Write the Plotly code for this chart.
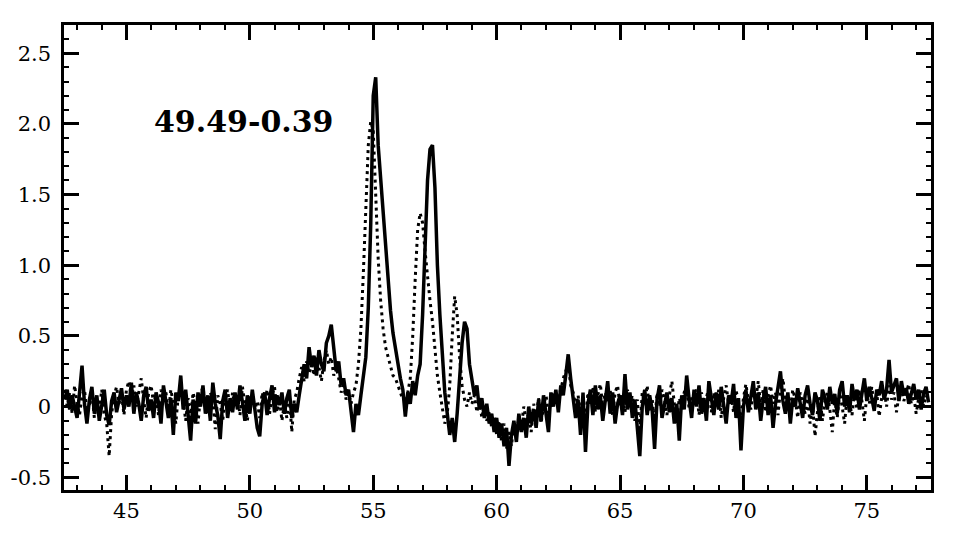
import plotly.graph_objects as go

# velocity grid: start and step (km/s)
x_start = 42.5
x_step = 0.1

solid_vals = [
    0.05, 0.12, -0.02, 0.08, 0.00, -0.08, 0.10, 0.29, 0.02, -0.12,
    0.05, 0.14, -0.05, 0.08, -0.10, 0.02, 0.12, -0.06, -0.13, 0.04,
    0.10, -0.04, 0.06, 0.13, -0.02, 0.08, 0.00, 0.17, -0.05, 0.10,
    0.02, -0.10, 0.08, 0.14, -0.03, 0.05, -0.08, 0.10, 0.03, -0.12,
    0.15, 0.02, -0.08, 0.06, -0.20, 0.10, 0.04, 0.22, -0.02, 0.12,
    -0.06, -0.24, 0.05, -0.12, 0.10, 0.00, 0.15, -0.05, 0.08, -0.10,
    0.17, 0.02, -0.06, -0.23, 0.04, 0.12, -0.08, 0.06, -0.04, 0.10,
    -0.02, 0.15, 0.03, -0.10, 0.08, -0.05, 0.12, -0.02, -0.15, -0.21,
    0.02, 0.10, -0.06, 0.06, 0.15, -0.04, 0.08, 0.01, 0.10, -0.05,
    0.06, 0.12, -0.08, 0.02, -0.04, 0.08, 0.18, 0.30, 0.20, 0.42,
    0.28, 0.36, 0.22, 0.40, 0.30, 0.25, 0.45, 0.50, 0.58, 0.38,
    0.25, 0.32, 0.15, 0.20, 0.08, 0.12, -0.05, -0.18, 0.02, -0.06,
    0.08, 0.20, 0.35, 0.70, 1.30, 2.20, 2.33, 1.85, 1.60, 1.35,
    1.10, 0.85, 0.68, 0.52, 0.40, 0.30, 0.20, 0.12, -0.07, 0.10,
    0.02, 0.18, 0.08, 0.22, 0.30, 0.65, 1.15, 1.60, 1.82, 1.85,
    1.55, 1.00, 0.65, 0.35, 0.10, -0.05, -0.20, -0.08, -0.25, -0.05,
    0.20, 0.45, 0.60, 0.55, 0.30, 0.20, 0.08, 0.15, -0.02, 0.06,
    -0.08, 0.02, -0.12, -0.05, -0.18, -0.08, -0.22, -0.12, -0.28, -0.15,
    -0.42, -0.20, -0.10, -0.25, -0.05, -0.18, -0.08, -0.22, 0.00, -0.12,
    -0.02, -0.15, 0.05, -0.10, 0.08, -0.05, -0.18, 0.10, 0.00, 0.12,
    -0.04, 0.15, 0.08, 0.22, 0.37, 0.20, 0.05, -0.08, 0.05, -0.20,
    0.10, -0.32, 0.02, 0.12, -0.06, 0.15, -0.02, 0.08, -0.10, 0.05,
    0.18, -0.05, 0.10, -0.12, 0.02, 0.08, -0.06, 0.23, -0.02, 0.10,
    -0.08, 0.05, -0.15, -0.35, 0.00, 0.12, -0.06, 0.08, -0.02, -0.30,
    0.05, 0.15, -0.08, 0.02, 0.10, -0.04, 0.06, -0.12, 0.02, -0.24,
    0.08, -0.02, 0.22, 0.05, -0.08, 0.12, 0.00, 0.15, -0.05, 0.06,
    -0.10, 0.18, 0.04, -0.06, 0.10, -0.02, 0.14, 0.00, -0.12, 0.08,
    0.02, 0.16, -0.08, 0.06, -0.31, 0.00, 0.12, -0.04, 0.08, 0.18,
    -0.02, 0.10, -0.10, 0.05, 0.14, -0.06, 0.08, -0.15, 0.02, 0.12,
    0.25, 0.04, -0.05, 0.10, -0.12, 0.06, 0.00, 0.13, 0.03, -0.08,
    0.08, 0.15, 0.02, -0.06, 0.10, 0.04, -0.10, 0.12, 0.06, -0.02,
    0.14, 0.02, 0.09, -0.05, 0.12, 0.18, 0.00, 0.08, -0.04, 0.16,
    0.05, 0.12, -0.02, 0.10, 0.20, 0.04, 0.14, 0.06, -0.03, 0.12,
    0.08, 0.18, 0.05, 0.12, 0.33, 0.10, 0.15, 0.20, 0.04, 0.18,
    0.08, 0.13, 0.02, 0.10, 0.16, 0.05, 0.12, -0.02, 0.09, 0.14,
    0.03,
]

dotted_vals = [
    0.12, 0.00, 0.10, -0.05, 0.15, 0.02, -0.06, 0.08, 0.12, -0.04,
    0.02, 0.10, -0.08, 0.04, -0.02, 0.12, -0.06, -0.12, -0.35, -0.05,
    0.08, 0.14, 0.02, 0.10, -0.06, 0.12, 0.18, 0.06, 0.15, 0.00,
    0.10, 0.20, 0.04, -0.08, 0.10, 0.15, 0.02, 0.08, -0.06, 0.12,
    0.04, 0.10, -0.05, 0.12, 0.02, -0.12, 0.08, 0.15, 0.05, -0.10,
    0.06, -0.08, 0.10, 0.02, -0.12, 0.08, 0.14, 0.00, -0.06, 0.10,
    0.05, -0.16, 0.08, 0.02, -0.10, 0.06, 0.12, -0.04, 0.10, 0.00,
    0.08, -0.06, 0.14, 0.02, -0.10, 0.06, 0.10, -0.02, 0.04, -0.08,
    0.10, 0.02, 0.12, -0.05, 0.08, 0.14, -0.04, 0.06, -0.10, 0.02,
    -0.08, 0.08, -0.18, 0.05, 0.10, 0.20, 0.28, 0.18, 0.32, 0.24,
    0.30, 0.22, 0.35, 0.28, 0.18, 0.32, 0.40, 0.30, 0.35, 0.22,
    0.28, 0.20, 0.10, 0.15, 0.05, 0.10, 0.02, 0.10, 0.15, 0.30,
    0.55, 0.95, 1.40, 1.85, 2.02, 1.95, 1.50, 1.05, 0.75, 0.55,
    0.42, 0.35, 0.30, 0.22, 0.20, 0.15, 0.10, 0.05, 0.08, 0.10,
    0.20, 0.50, 0.90, 1.25, 1.37, 1.30, 1.10, 0.90, 0.75, 0.60,
    0.40, 0.22, 0.10, 0.00, -0.12, -0.05, 0.15, 0.50, 0.78, 0.65,
    0.35, 0.15, 0.05, 0.00, 0.10, 0.02, 0.08, -0.04, 0.06, -0.08,
    0.02, -0.10, -0.04, -0.15, -0.08, -0.20, -0.10, -0.25, -0.12, -0.30,
    -0.18, -0.28, -0.12, -0.20, -0.08, -0.15, 0.00, -0.10, -0.05, -0.18,
    0.02, -0.08, 0.06, -0.12, 0.00, 0.08, -0.05, 0.04, 0.10, 0.02,
    0.08, 0.12, 0.20, 0.25, 0.30, 0.15, 0.10, 0.00, 0.08, -0.05,
    0.05, -0.10, 0.10, 0.02, 0.14, -0.04, 0.08, 0.16, 0.00, 0.10,
    0.04, 0.12, -0.06, 0.10, 0.15, 0.00, 0.08, -0.04, 0.12, 0.02,
    0.08, -0.10, 0.05, -0.18, 0.10, 0.02, 0.15, -0.04, 0.06, -0.12,
    0.10, 0.00, 0.12, 0.05, -0.06, 0.08, 0.18, 0.02, -0.10, 0.06,
    0.00, 0.10, 0.15, -0.02, 0.08, 0.04, 0.12, -0.06, 0.10, 0.02,
    0.06, 0.14, -0.04, 0.10, 0.00, 0.12, -0.08, 0.06, 0.15, 0.02,
    0.08, -0.04, 0.12, 0.02, -0.10, 0.06, 0.16, 0.04, -0.02, 0.10,
    0.05, 0.18, 0.00, 0.12, -0.04, 0.08, 0.15, 0.02, 0.10, -0.06,
    0.12, 0.20, 0.04, 0.08, -0.02, 0.12, 0.05, -0.08, 0.10, 0.02,
    -0.05, 0.06, -0.12, 0.02, -0.21, -0.04, 0.08, -0.10, 0.04, 0.10,
    -0.02, -0.18, 0.06, -0.08, 0.10, 0.00, -0.12, 0.08, 0.02, -0.06,
    0.10, -0.02, 0.12, 0.04, -0.10, 0.08, 0.02, 0.14, 0.00, 0.10,
    -0.07, 0.06, 0.12, 0.00, 0.15, 0.05, 0.10, -0.04, 0.08, 0.12,
    0.04, 0.10, 0.16, 0.02, 0.08, -0.05, 0.06, 0.12, 0.00, 0.08,
    0.05,
]

x_solid = [round(x_start + x_step * i, 2) for i in range(len(solid_vals))]
x_dotted = [round(x_start + x_step * i, 2) for i in range(len(dotted_vals))]

x_ticks = [45, 50, 55, 60, 65, 70, 75]
x_tick_labels = ["45", "50", "55", "60", "65", "70", "75"]
y_ticks = [-0.5, 0, 0.5, 1.0, 1.5, 2.0, 2.5]
y_tick_labels = ["-0.5", "0", "0.5", "1.0", "1.5", "2.0", "2.5"]
source_label = "49.49-0.39"

fig = go.Figure()
fig.add_trace(go.Scatter(x=x_dotted, y=dotted_vals, mode="lines",
                         line=dict(color="black", width=3, dash="3px,4px"),
                         showlegend=False))
fig.add_trace(go.Scatter(x=x_solid, y=solid_vals, mode="lines",
                         line=dict(color="black", width=3.5),
                         showlegend=False))

fig.add_annotation(x=49.75, y=2.02, text="<b>" + source_label + "</b>",
                   showarrow=False, xanchor="center", yanchor="middle",
                   font=dict(family="DejaVu Serif", size=30, color="black"))

axis_common = dict(showgrid=False, zeroline=False, showline=True,
                   linecolor="black", linewidth=2.5, mirror="ticks",
                   ticks="inside", ticklen=15, tickwidth=2.5, tickcolor="black",
                   automargin=False,
                   tickfont=dict(family="DejaVu Serif", size=21, color="black"))

fig.update_xaxes(range=[42.47, 77.6], tickvals=x_ticks, ticktext=x_tick_labels,
                 minor=dict(dtick=1, tick0=0, ticks="inside", ticklen=5,
                            tickwidth=2, tickcolor="black"),
                 **axis_common)
fig.update_yaxes(range=[-0.59, 2.70], tickvals=y_ticks, ticktext=y_tick_labels,
                 ticklabelstandoff=6,
                 minor=dict(dtick=0.1, tick0=0, ticks="inside", ticklen=5,
                            tickwidth=2, tickcolor="black"),
                 **axis_common)

# the page body adds an 8 px offset, so margins are shifted to compensate
fig.update_layout(width=961, height=551, plot_bgcolor="white",
                  paper_bgcolor="white",
                  margin=dict(l=56, r=38, t=17, b=69))

fig.write_html("out.html")
